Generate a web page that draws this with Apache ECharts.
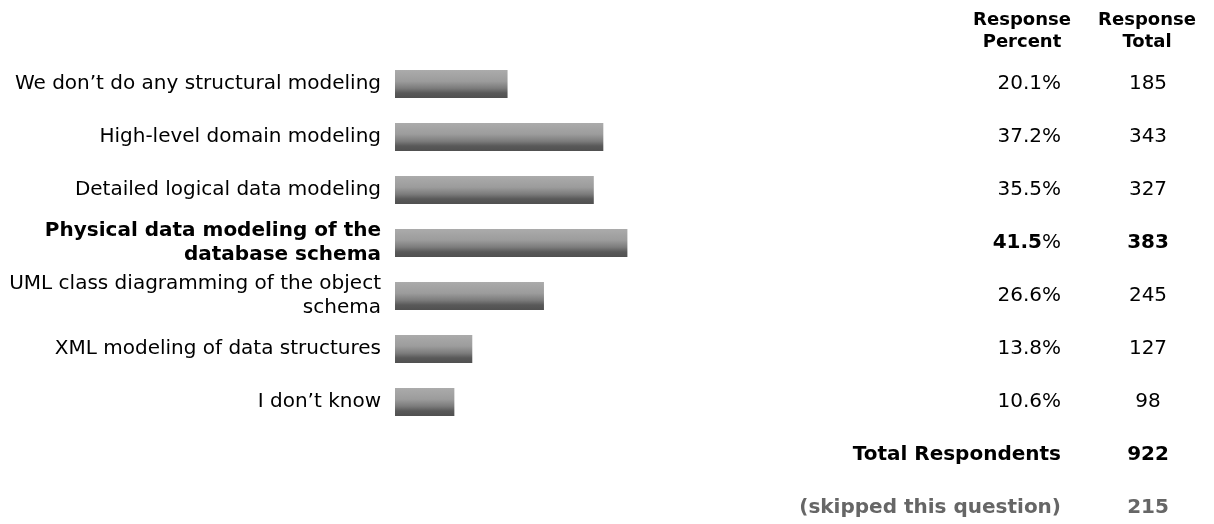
<!DOCTYPE html>
<html><head><meta charset="utf-8">
<script src="https://cdn.jsdelivr.net/npm/echarts@6/dist/echarts.min.js"></script>
<style>html,body{margin:0;padding:0;background:#fff}#c{width:1214px;height:524px}</style>
</head><body><div id="c"></div>
<script>
const categories = [
  'We don\u2019t do any structural modeling',
  'High-level domain modeling',
  'Detailed logical data modeling',
  'Physical data modeling of the\ndatabase schema',
  'UML class diagramming of the object\nschema',
  'XML modeling of data structures',
  'I don\u2019t know'
];
const percents = [20.1, 37.2, 35.5, 41.5, 26.6, 13.8, 10.6];
const totals = [185, 343, 327, 383, 245, 127, 98];
const summaryLabels = ['Total Respondents', '(skipped this question)'];
const summaryValues = [922, 215];
const headers = ['Response\nPercent', 'Response\nTotal'];

const FONT = 'DejaVu Sans';
const FS = 20;
const maxIdx = percents.indexOf(Math.max(...percents));

const leftLabels = categories.concat(summaryLabels.map(() => ''));
const pctLabels = percents.map(p => p.toFixed(1) + '%').concat(summaryLabels);
const totLabels = totals.map(String).concat(summaryValues.map(String));

const rich = {
  n: {fontFamily: FONT, fontSize: FS, color: '#000', lineHeight: 24},
  b: {fontFamily: FONT, fontSize: FS, color: '#000', fontWeight: 'bold', lineHeight: 24},
  g: {fontFamily: FONT, fontSize: FS, color: '#666', fontWeight: 'bold', lineHeight: 24}
};
const hidden = {axisLine: {show: false}, axisTick: {show: false}, splitLine: {show: false}};

const chart = echarts.init(document.getElementById('c'), null, {renderer: 'canvas'});
chart.setOption({
  animation: false,
  backgroundColor: '#fff',
  grid: {left: 395, width: 560, top: 84, height: 424, containLabel: false},
  xAxis: {type: 'value', min: 0, max: 100, show: false},
  yAxis: [
    Object.assign({
      type: 'category', inverse: true, boundaryGap: false, data: leftLabels,
      axisLabel: {
        margin: 14, align: 'right', rich, interval: 0,
        formatter: (v, i) => v === '' ? '' : (i === maxIdx ? '{b|' + v + '}' : '{n|' + v + '}')
      }
    }, hidden),
    Object.assign({
      type: 'category', inverse: true, boundaryGap: false, position: 'right', offset: 98, data: pctLabels,
      axisLabel: {
        margin: 8, align: 'right', rich, interval: 0,
        formatter: (v, i) => {
          if (i === maxIdx) return '{b|' + v.replace('%', '') + '}{n|%}';
          if (i === categories.length) return '{b|' + v + '}';
          if (i === categories.length + 1) return '{g|' + v + '}';
          return '{n|' + v + '}';
        }
      }
    }, hidden),
    Object.assign({
      type: 'category', inverse: true, boundaryGap: false, position: 'right', offset: 185, data: totLabels,
      axisLabel: {
        margin: 8, align: 'center', rich, interval: 0,
        formatter: (v, i) => {
          if (i === maxIdx || i === categories.length) return '{b|' + v + '}';
          if (i === categories.length + 1) return '{g|' + v + '}';
          return '{n|' + v + '}';
        }
      }
    }, hidden)
  ],
  graphic: headers.map((h, k) => ({
    type: 'text',
    x: k === 0 ? 1022 : 1147,
    y: 9,
    style: {
      text: h, font: 'bold 18px ' + FONT, fill: '#000',
      align: 'center', verticalAlign: 'top', lineHeight: 22
    }
  })),
  series: [{
    type: 'bar',
    yAxisIndex: 0,
    data: percents,
    barWidth: 28,
    itemStyle: {
      color: new echarts.graphic.LinearGradient(0, 0, 0, 1, [
        {offset: 0, color: '#ababab'},
        {offset: 0.4, color: '#9c9c9c'},
        {offset: 0.65, color: '#7c7c7c'},
        {offset: 0.82, color: '#595959'},
        {offset: 1, color: '#505050'}
      ])
    },
    silent: true
  }]
});
</script></body></html>
